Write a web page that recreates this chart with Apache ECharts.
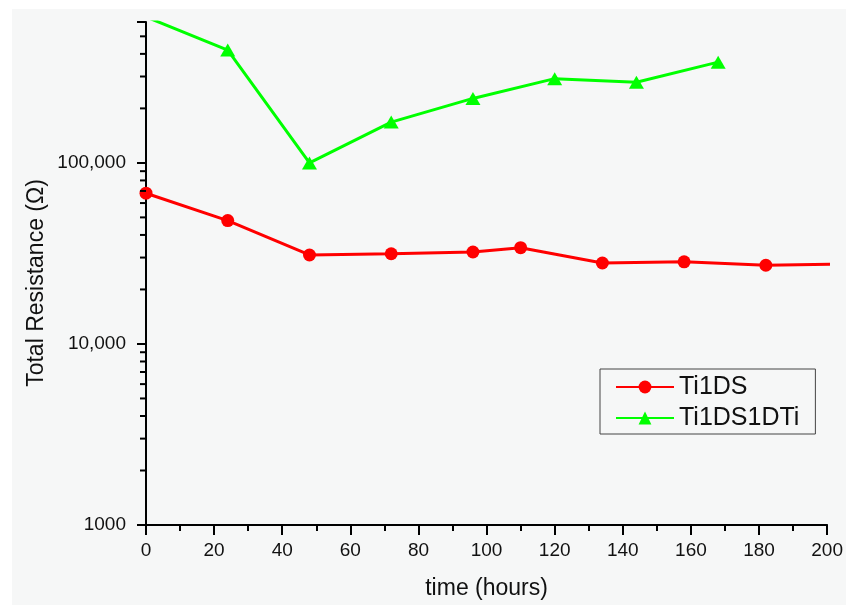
<!DOCTYPE html>
<html>
<head>
<meta charset="utf-8">
<script src="https://cdn.jsdelivr.net/npm/echarts@6/dist/echarts.min.js"></script>
<style>
html,body{margin:0;padding:0;background:#fff;}
#chart{width:846px;height:605px;}
</style>
</head>
<body>
<div id="chart"></div>
<script>
// ---- data ----
const seriesNames = ['Ti1DS', 'Ti1DS1DTi'];
const ti1dsHours  = [0, 24, 48, 72, 96, 110, 134, 158, 182, 206];
const ti1dsValues = [68000, 48000, 31000, 31500, 32200, 34000, 28000, 28400, 27200, 27600];
const ti1ds1dtiHours  = [0, 24, 48, 72, 96, 120, 144, 168];
const ti1ds1dtiValues = [640000, 420000, 100000, 168000, 227000, 292000, 279000, 360000];
const yTickValues = [1000, 10000, 100000];
const yTickLabels = ['1000', '10,000', '100,000'];
const yMinorTicks = [2000, 3000, 4000, 5000, 6000, 7000, 8000, 9000,
                     20000, 30000, 40000, 50000, 60000, 70000, 80000, 90000,
                     200000, 300000, 400000, 500000, 600000];
const xMin = 0, xMax = 200, xStep = 20;
const yMin = 1000, yMax = 600000;

const FONT = 'Liberation Sans, Arial, sans-serif';
const chart = echarts.init(document.getElementById('chart'), null, {renderer: 'canvas'});

function pairs(xs, ys) { return xs.map((x, i) => [x, ys[i]]); }

const option = {
  backgroundColor: '#ffffff',
  animation: false,
  graphic: [
    { type: 'rect', z: -10, silent: true,
      shape: { x: 12, y: 9, width: 846, height: 605 },
      style: { fill: '#f6f7f7' } },
    { type: 'text', silent: true, x: 37, y: 283, rotation: Math.PI / 2,
      style: { text: 'Total Resistance (Ω)', font: '23px ' + FONT, fill: '#111',
               align: 'center', verticalAlign: 'middle' } }
  ],
  grid: { left: 146, right: 18, top: 22, bottom: 80, containLabel: false },
  legend: {
    data: seriesNames,
    orient: 'vertical',
    left: 600, top: 369,
    padding: [5, 16, 3, 15],
    itemWidth: 58, itemHeight: 16, itemGap: 5, itemTextGap: 3,
    borderColor: '#444', borderWidth: 1, backgroundColor: 'transparent',
    textStyle: { fontFamily: FONT, fontSize: 25, color: '#111', lineHeight: 26 }
  },
  xAxis: {
    type: 'value', min: xMin, max: xMax, interval: xStep,
    name: 'time (hours)', nameLocation: 'middle', nameGap: 52,
    nameTextStyle: { fontFamily: FONT, fontSize: 23, color: '#111' },
    axisLine: { show: true, onZero: false, lineStyle: { color: '#000', width: 2 } },
    axisTick: { show: true, inside: false, length: 10, lineStyle: { color: '#000', width: 2 } },
    minorTick: { show: true, splitNumber: 2, length: 6, lineStyle: { color: '#000', width: 2 } },
    axisLabel: { fontFamily: FONT, fontSize: 19, color: '#111', margin: 16 },
    splitLine: { show: false }
  },
  yAxis: {
    type: 'log', logBase: 10, min: yMin, max: yMax,
    axisLine: { show: true, lineStyle: { color: '#000', width: 2 } },
    axisTick: { show: true, inside: false, length: 9, lineStyle: { color: '#000', width: 2 } },
    axisLabel: {
      fontFamily: FONT, fontSize: 19, color: '#111', margin: 20,
      formatter: function (v) {
        for (let i = 0; i < yTickValues.length; i++) {
          if (Math.abs(v - yTickValues[i]) / yTickValues[i] < 1e-6) return yTickLabels[i];
        }
        return '';
      }
    },
    splitLine: { show: false }
  },
  series: [
    {
      name: seriesNames[0], type: 'line',
      data: pairs(ti1dsHours, ti1dsValues),
      symbol: 'circle', symbolSize: 13,
      lineStyle: { color: '#ff0000', width: 3 },
      itemStyle: { color: '#ff0000' },
      clip: true, z: 3
    },
    {
      name: seriesNames[1], type: 'line',
      data: pairs(ti1ds1dtiHours, ti1ds1dtiValues),
      symbol: 'triangle', symbolSize: [15, 13],
      lineStyle: { color: '#00ff00', width: 3 },
      itemStyle: { color: '#00ff00' },
      clip: true, z: 3
    },
    {
      name: 'yMinorTicks', type: 'custom',
      data: yMinorTicks.map(v => [xMin, v]),
      clip: false, silent: true, z: 5,
      renderItem: function (params, api) {
        const p = api.coord([api.value(0), api.value(1)]);
        return { type: 'line',
                 shape: { x1: p[0] - 6, y1: p[1], x2: p[0], y2: p[1] },
                 style: { stroke: '#000', lineWidth: 2 } };
      }
    }
  ]
};
chart.setOption(option);
</script>
</body>
</html>
